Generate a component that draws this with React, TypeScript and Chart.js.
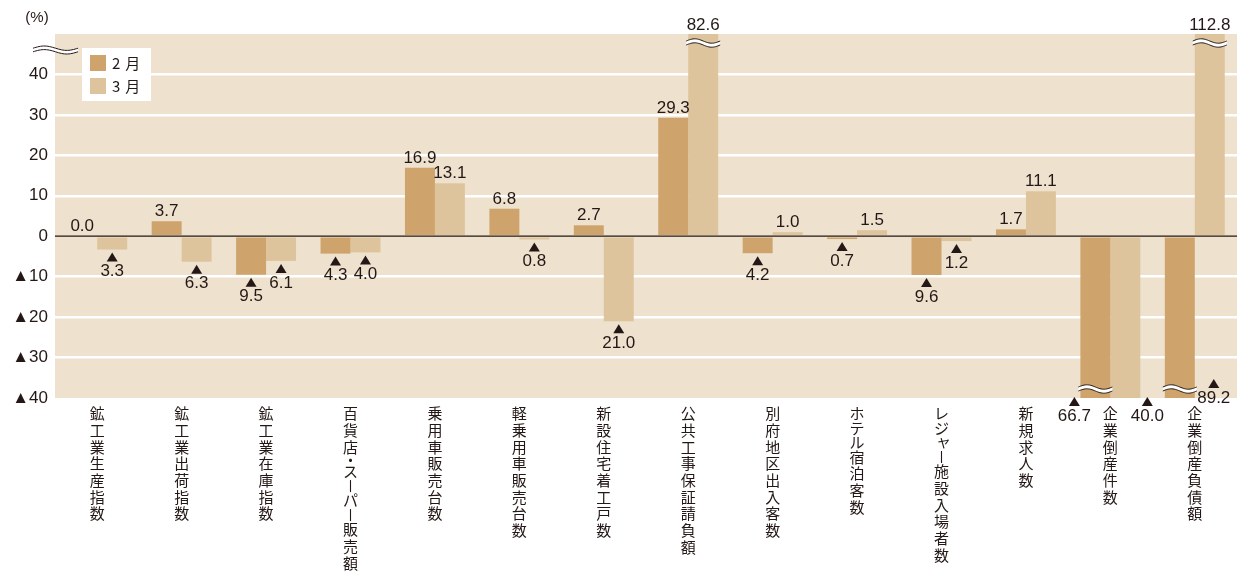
import { useEffect, useRef } from "react";
import { Chart, registerables } from "chart.js";

Chart.register(...registerables);

// Year-on-year change (%), ▲ = minus
const categories = [
  "鉱工業生産指数",
  "鉱工業出荷指数",
  "鉱工業在庫指数",
  "百貨店・スーパー販売額",
  "乗用車販売台数",
  "軽乗用車販売台数",
  "新設住宅着工戸数",
  "公共工事保証請負額",
  "別府地区出入客数",
  "ホテル宿泊客数",
  "レジャー施設入場者数",
  "新規求人数",
  "企業倒産件数",
  "企業倒産負債額",
];
const seriesLabels = ["2月", "3月"];
const febValues = [0.0, 3.7, -9.5, -4.3, 16.9, 6.8, 2.7, 29.3, -4.2, -0.7, -9.6, 1.7, -66.7, -89.2];
const marValues = [-3.3, -6.3, -6.1, -4.0, 13.1, -0.8, -21.0, 82.6, 1.0, 1.5, -1.2, 11.1, -40.0, 112.8];
const yMin = -40;
const yMax = 50;
const yStep = 10;

const INK = "#231815";
const BG = "#eee1ce";
const COLORS = ["#cea46c", "#dec49c"];
const NUM_FONT = '17px "Liberation Sans", Arial, sans-serif';
const JP_FONT = '"Noto Sans CJK JP", sans-serif';

function triangle(ctx: CanvasRenderingContext2D, cx: number, top: number) {
  ctx.beginPath();
  ctx.moveTo(cx, top);
  ctx.lineTo(cx + 5.5, top + 9);
  ctx.lineTo(cx - 5.5, top + 9);
  ctx.closePath();
  ctx.fill();
}

function wave(ctx: CanvasRenderingContext2D, x0: number, x1: number, yc: number, amp = 2.2, gap = 2) {
  const n = 30;
  const pts: [number, number][] = [];
  for (let i = 0; i <= n; i++) {
    const t = i / n;
    pts.push([x0 + (x1 - x0) * t, yc - amp * Math.sin(2 * Math.PI * t)]);
  }
  ctx.save();
  ctx.fillStyle = "#ffffff";
  ctx.beginPath();
  pts.forEach(([x, y], i) => (i ? ctx.lineTo(x, y - gap) : ctx.moveTo(x, y - gap)));
  for (let i = n; i >= 0; i--) ctx.lineTo(pts[i][0], pts[i][1] + gap);
  ctx.closePath();
  ctx.fill();
  ctx.strokeStyle = INK;
  ctx.lineWidth = 1;
  for (const off of [-gap, gap]) {
    ctx.beginPath();
    pts.forEach(([x, y], i) => (i ? ctx.lineTo(x, y + off) : ctx.moveTo(x, y + off)));
    ctx.stroke();
  }
  ctx.restore();
}

// vertical writing: kana set a little tighter, middle dot takes half a cell
const isKana = (ch: string) => /[\u3040-\u30FF]/.test(ch);
const isSmallKana = (ch: string) => "ャュョッァィゥェォ".includes(ch);
const charStep = (ch: string) => (ch === "・" ? 8 : isKana(ch) ? 14.5 : 16.7);

const decorations = {
  id: "decorations",
  beforeDraw(chart: any) {
    const { ctx, chartArea: a } = chart;
    ctx.save();
    ctx.fillStyle = BG;
    ctx.fillRect(a.left, a.top, a.right - a.left, a.bottom - a.top);
    ctx.restore();
  },
  afterDatasetsDraw(chart: any) {
    const { ctx, chartArea: a, scales } = chart;
    const y0 = scales.y.getPixelForValue(0);
    ctx.save();
    ctx.strokeStyle = INK;
    ctx.lineWidth = 1.2;
    ctx.beginPath();
    ctx.moveTo(a.left, y0);
    ctx.lineTo(a.right, y0);
    ctx.stroke();

    ctx.font = NUM_FONT;
    ctx.fillStyle = INK;
    ctx.textAlign = "center";
    chart.data.datasets.forEach((ds: any, di: number) => {
      const meta = chart.getDatasetMeta(di);
      meta.data.forEach((bar: any, i: number) => {
        const v = ds.data[i] as number;
        const txt = Math.abs(v).toFixed(1);
        const half = bar.width / 2;
        if (v > yMax) {
          wave(ctx, bar.x - half - 2, bar.x + half + 2, a.top + 9);
          ctx.fillStyle = INK;
          ctx.textBaseline = "alphabetic";
          ctx.fillText(txt, bar.x, a.top - 4);
          return;
        }
        if (v >= 0) {
          ctx.textBaseline = "alphabetic";
          ctx.fillText(txt, bar.x, bar.y - 5);
          return;
        }
        let cx = bar.x;
        let top = bar.y + 3;
        if (v < yMin) {
          wave(ctx, bar.x - half - 2, bar.x + half + 2, a.bottom - 9);
          ctx.fillStyle = INK;
          const other = chart.data.datasets[di + 1];
          if (other && (other.data[i] as number) > yMax) {
            cx = bar.x + bar.width + 4;
            top = a.bottom - 19;
          } else {
            cx = bar.x - half - 6;
            top = a.bottom - 1;
          }
        } else if (v === yMin) {
          cx = bar.x + half + 7;
          top = a.bottom - 1;
        }
        triangle(ctx, cx, top);
        ctx.textBaseline = "middle";
        ctx.fillText(txt, cx, top + 19);
      });
    });
    ctx.restore();
  },
  afterDraw(chart: any) {
    const { ctx, chartArea: a, scales } = chart;
    ctx.save();
    // category names, written vertically
    ctx.fillStyle = INK;
    ctx.strokeStyle = INK;
    ctx.lineWidth = 1.1;
    ctx.font = `15px ${JP_FONT}`;
    ctx.textAlign = "center";
    ctx.textBaseline = "top";
    categories.forEach((name, i) => {
      const x = scales.x.getPixelForTick(i);
      let y = a.bottom + 8;
      for (const ch of Array.from(name)) {
        if (ch === "ー") {
          ctx.beginPath();
          ctx.moveTo(x, y + 1.5);
          ctx.lineTo(x, y + 13.5);
          ctx.stroke();
        } else if (ch === "・") {
          ctx.fillText(ch, x, y - 3.5);
        } else if (isSmallKana(ch)) {
          ctx.fillText(ch, x + 2, y - 1);
        } else {
          ctx.fillText(ch, x, y);
        }
        y += charStep(ch);
      }
    });
    // unit
    ctx.font = '15px "Liberation Sans", Arial, sans-serif';
    ctx.textBaseline = "middle";
    ctx.fillText("(%)", a.left - 18, 18);
    // axis break
    wave(ctx, 33, 78, a.top + 16, 2.2, 1.8);
    // legend
    const lx = a.left + 27;
    const ly = a.top + 14;
    ctx.fillStyle = "#ffffff";
    ctx.fillRect(lx, ly, 69, 53);
    ctx.font = `15px ${JP_FONT}`;
    ctx.textAlign = "left";
    (ctx as any).letterSpacing = "5px";
    seriesLabels.forEach((lab, k) => {
      ctx.fillStyle = COLORS[k];
      ctx.fillRect(lx + 8, ly + 7 + k * 23, 16, 16);
      ctx.fillStyle = INK;
      ctx.fillText(lab, lx + 30, ly + 15 + k * 23);
    });
    ctx.restore();
  },
};

export default function App() {
  const canvasRef = useRef<HTMLCanvasElement>(null);
  const chartRef = useRef<Chart | null>(null);

  useEffect(() => {
    if (!canvasRef.current) return;
    if (chartRef.current) chartRef.current.destroy();

    chartRef.current = new Chart(canvasRef.current, {
      type: "bar",
      data: {
        labels: categories,
        datasets: [
          { label: seriesLabels[0], data: febValues, backgroundColor: COLORS[0] },
          { label: seriesLabels[1], data: marValues, backgroundColor: COLORS[1] },
        ],
      },
      options: {
        responsive: true,
        maintainAspectRatio: false,
        animation: false,
        layout: { padding: { top: 34, left: 0, right: 0, bottom: 0 } },
        datasets: {
          bar: { categoryPercentage: 0.71, barPercentage: 1.0 },
        },
        plugins: {
          legend: { display: false },
          tooltip: { enabled: false },
        },
        scales: {
          x: {
            grid: { display: false },
            border: { display: false },
            ticks: { display: false, autoSkip: false },
            afterFit: (s: any) => {
              s.height = 176;
            },
          },
          y: {
            min: yMin,
            max: yMax,
            border: { display: false },
            grid: {
              drawTicks: false,
              lineWidth: 2.5,
              color: (c: any) => {
                const v = c.tick?.value;
                return v === 0 || v === yMin || v === yMax ? "rgba(0,0,0,0)" : "#ffffff";
              },
            },
            ticks: {
              stepSize: yStep,
              padding: 7,
              color: INK,
              font: { family: '"Liberation Sans", Arial, sans-serif', size: 17 },
              callback: (v: any) => (v === yMax ? "" : v < 0 ? `▲${Math.abs(v)}` : `${v}`),
            },
            afterFit: (s: any) => {
              s.width = 55;
            },
          },
        },
      },
      plugins: [decorations],
    } as any);

    return () => {
      if (chartRef.current) {
        chartRef.current.destroy();
        chartRef.current = null;
      }
    };
  }, []);

  return (
    <div style={{ position: "fixed", left: 0, top: 0, width: 1237, height: 574, background: "#ffffff" }}>
      <canvas ref={canvasRef} />
    </div>
  );
}
